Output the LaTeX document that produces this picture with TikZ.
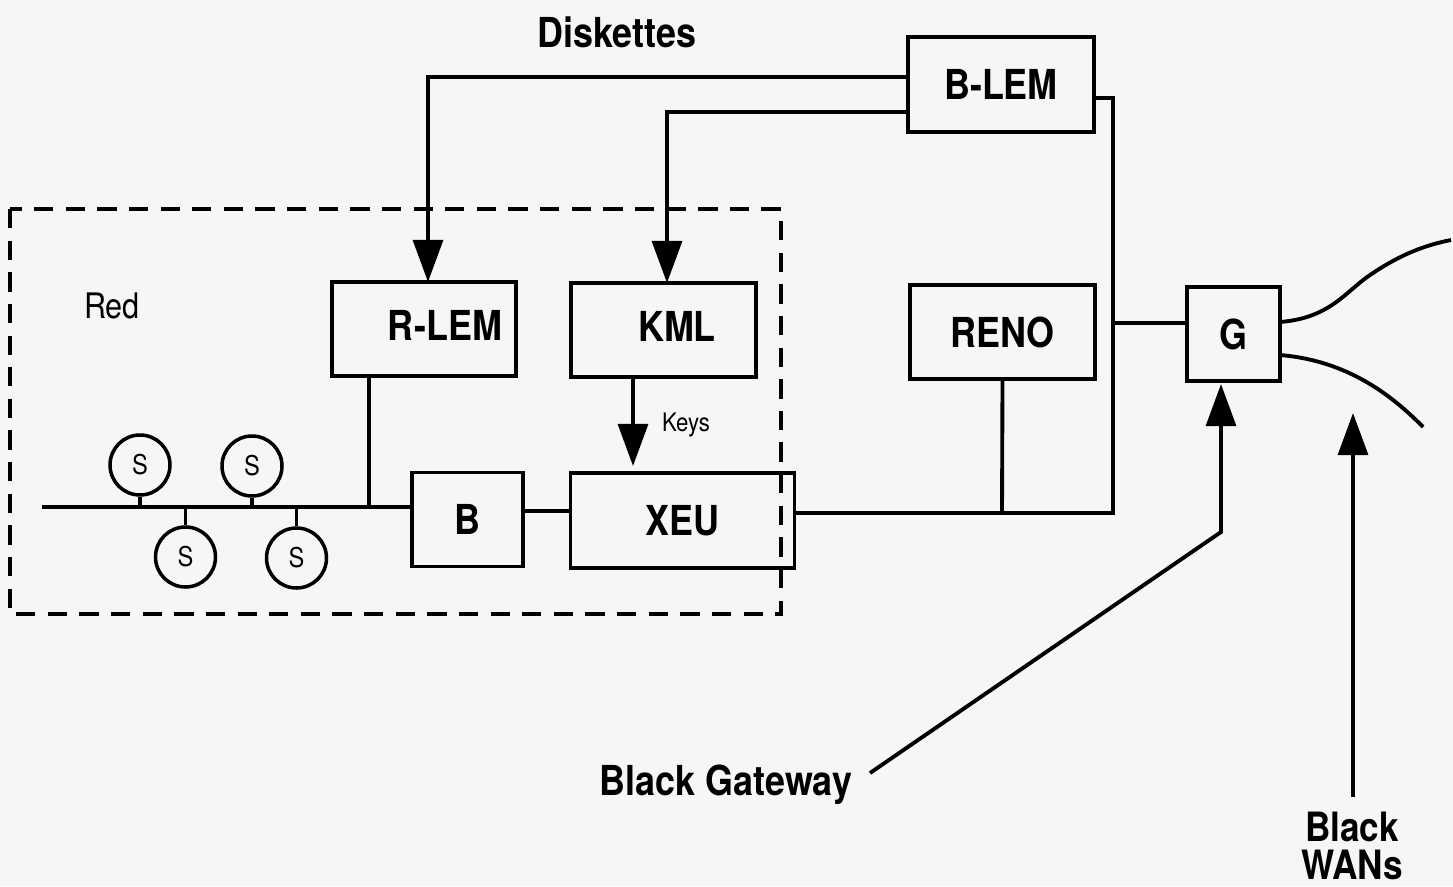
\documentclass[tikz,border=0pt]{standalone}
\usepackage{fontspec}
\setmainfont[FakeStretch=0.87]{TeX Gyre Heros}
\usetikzlibrary{arrows.meta}
\definecolor{bg}{RGB}{246,246,246}
\begin{document}
\begin{tikzpicture}[x=0.02cm,y=-0.02cm,
  bx/.style 2 args={draw,line width=2.2pt,inner sep=0pt,minimum width=#1*0.02cm,minimum height=#2*0.02cm,font=\fontsize{23.5}{26}\selectfont\bfseries},
  lbl/.style={inner sep=0pt,font=\fontsize{23.5}{26}\selectfont\bfseries},
  sta/.style={draw,circle,line width=2pt,inner sep=0pt,minimum size=1.2cm,font=\fontsize{15.5}{17}\selectfont},
  wire/.style={line width=2.2pt},
  arr/.style={line width=2.2pt,-{Triangle[length=24pt,width=17pt]}},
  dashbox/.style={line width=2pt,dash pattern=on 11pt off 7pt}]
\useasboundingbox[fill=bg] (0,0) rectangle (1453,886);

% dashed red region
\draw[dashbox] (10,209) rectangle (781,614);

% boxes
\node[bx={184}{94}] (rlem) at (424,329) {};
\node[lbl] (rlemT) at (445,325) {R-LEM};
\node[bx={185}{94}] (kml) at (663.5,330) {};
\node[lbl] (kmlT) at (677,326) {KML};
\node[bx={111}{94}] (b) at (467.5,519.5) {B};
\node[bx={224}{95}] (xeu) at (682.5,520.5) {XEU};
\node[bx={186}{95}] (blem) at (1001,84.5) {B-LEM};
\node[bx={185}{94}] (reno) at (1002.5,332) {RENO};
\node[bx={93}{94}] (g) at (1233.5,334) {G};

% texts
\node[lbl] (disk) at (617,32) {Diskettes};
\node[inner sep=0pt,font=\fontsize{20}{22}\selectfont] (red) at (112,306) {Red};
\node[inner sep=0pt,font=\fontsize{14.5}{16}\selectfont] (keys) at (686,425) {Keys};
\node[lbl] (bgw) at (726,785) {Black Gateway};
\node[lbl,align=center,font=\fontsize{23}{21.5}\selectfont\bfseries] (bwan) at (1352,846) {Black\\WANs};

% stations
\node[sta] (s1) at (140,465) {S};
\node[sta] (s2) at (252,466) {S};
\node[sta] (s3) at (185.5,557) {S};
\node[sta] (s4) at (296.5,558) {S};

% bus
\coordinate (busL) at (42,507);
\coordinate (busR) at (412,507);
\draw[wire] (busL) -- (busR);
\draw[wire] (s1.south) -- (s1.south |- busL);
\draw[wire] (s2.south) -- (s2.south |- busL);
\draw[wire] (s3.north) -- (s3.north |- busL);
\draw[wire] (s4.north) -- (s4.north |- busL);
\coordinate (jr) at (369,507);
\coordinate (rs) at (369,376);
\draw[wire] (rs) -- (jr);

% B - XEU
\coordinate (bx1) at (523,511);
\coordinate (bx2) at (571,511);
\draw[wire] (bx1) -- (bx2);

% KML -> XEU
\coordinate (k1) at (633,377);
\coordinate (k2) at (633,466);
\draw[arr] (k1) -- (k2);

% diskettes
\coordinate (d1a) at (908,77);
\coordinate (d1b) at (428,77);
\coordinate (d1c) at (428,282);
\draw[arr] (d1a) -- (d1b) -- (d1c);
\coordinate (d2a) at (908,112);
\coordinate (d2b) at (667,112);
\coordinate (d2c) at (667,283);
\draw[arr] (d2a) -- (d2b) -- (d2c);

% black side
\coordinate (x1) at (794,513);
\coordinate (x2) at (1113,513);
\coordinate (bl1) at (1094,98);
\coordinate (bl2) at (1113,98);
\draw[wire] (x1) -- (x2) -- (bl2) -- (bl1);
\coordinate (rn) at (1002,513);
\draw[wire] (reno.south) -- (rn);
\coordinate (gj) at (1113,323);
\coordinate (gl) at (1187,323);
\draw[wire] (gj) -- (gl);

% WAN curves
\coordinate (gu) at (1280,322);
\coordinate (gd) at (1280,355);
\coordinate (wu) at (1451,240);
\coordinate (wd) at (1423,427);
\draw[wire] (gu) .. controls (1330,318) and (1345,292) .. (1370,275) .. controls (1395,258) and (1420,246) .. (wu);
\draw[wire] (gd) .. controls (1340,360) and (1385,388) .. (wd);

% Black Gateway arrow
\coordinate (bg1) at (870,773);
\coordinate (bg2) at (1221,532);
\coordinate (bg3) at (1221,384);
\draw[arr] (bg1) -- (bg2) -- (bg3);

% Black WANs arrow
\coordinate (bw1) at (1353,797);
\coordinate (bw2) at (1353,413);
\draw[arr] (bw1) -- (bw2);
\end{tikzpicture}
\end{document}
